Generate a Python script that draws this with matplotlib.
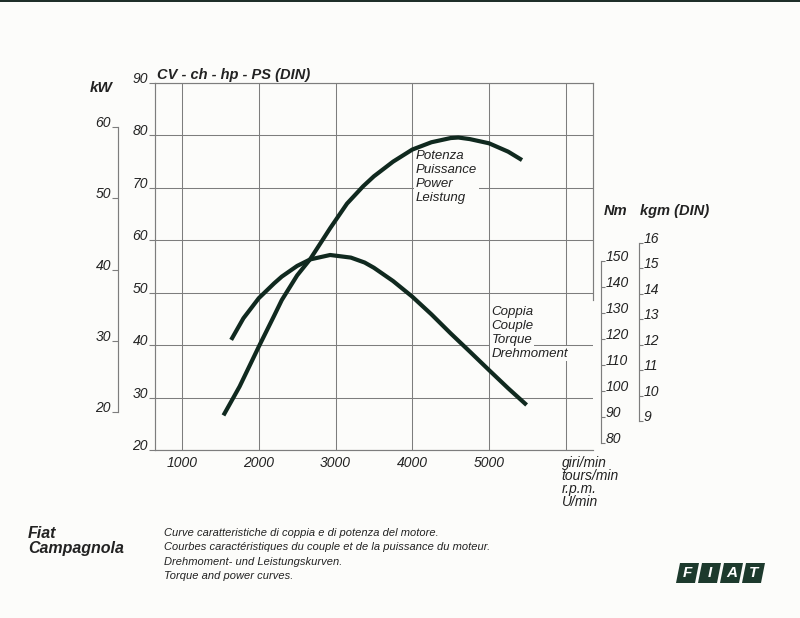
import matplotlib
matplotlib.use("Agg")
import matplotlib.pyplot as plt
from matplotlib.patches import Polygon, Rectangle

# ---------------- data ----------------
rpm_ticks = [1000, 2000, 3000, 4000, 5000, 6000]
rpm_labels = ["1000", "2000", "3000", "4000", "5000", ""]
cv_ticks = [20, 30, 40, 50, 60, 70, 80, 90]
kw_ticks = [20, 30, 40, 50, 60]
nm_ticks = [80, 90, 100, 110, 120, 130, 140, 150]
kgm_ticks = [9, 10, 11, 12, 13, 14, 15, 16]

power_rpm = [1540, 1750, 2000, 2200, 2300, 2500, 2670, 2930, 3150, 3360, 3500,
             3750, 4000, 4250, 4500, 4600, 4750, 5000, 5250, 5430]
power_cv = [26.6, 32.1, 39.7, 45.6, 48.6, 53.3, 56.4, 62.3, 67.0, 70.3, 72.2,
            75.0, 77.3, 78.7, 79.5, 79.6, 79.3, 78.5, 76.9, 75.3]

torque_rpm = [1640, 1800, 2000, 2200, 2300, 2500, 2670, 2930, 3200, 3380,
              3500, 3750, 4000, 4250, 4500, 4750, 5000, 5250, 5490]
torque_nm = [119.6, 127.9, 135.6, 141.3, 143.9, 148.0, 150.5, 152.2, 151.2, 149.3,
             147.3, 142.2, 136.2, 129.4, 122.1, 115.1, 108.0, 101.0, 94.6]

power_labels = ["Potenza", "Puissance", "Power", "Leistung"]
torque_labels = ["Coppia", "Couple", "Torque", "Drehmoment"]
rpm_unit_labels = ["giri/min", "tours/min", "r.p.m.", "U/min"]
model_name = ["Fiat", "Campagnola"]
caption_lines = [
    "Curve caratteristiche di coppia e di potenza del motore.",
    "Courbes caractéristiques du couple et de la puissance du moteur.",
    "Drehmoment- und Leistungskurven.",
    "Torque and power curves.",
]
logo_letters = ["F", "I", "A", "T"]

# ---------------- style ----------------
plt.rcParams["font.family"] = ["Liberation Sans", "DejaVu Sans"]
plt.rcParams["font.style"] = "italic"
BG = "#fcfcfa"
INK = "#222222"
GRID = "#7d7d7d"
CURVE = "#10291f"
LOGO = "#1d3a2d"

W, H = 800, 618
fig = plt.figure(figsize=(8, 6.18), dpi=100)
fig.patch.set_facecolor(BG)

def fx(px):
    return px / W

def fy(py):
    return 1 - py / H

# main axes (CV)
ax = fig.add_axes([fx(155), fy(450), 438 / W, 367 / H])
ax.set_facecolor(BG)
ax.set_xlim(648, 6355)
ax.set_ylim(20, 90)
ax.set_axisbelow(True)
ax.set_xticks(rpm_ticks)
ax.set_xticklabels(rpm_labels)
ax.set_yticks(cv_ticks)
ax.grid(True, color=GRID, lw=0.75)
for s in ax.spines.values():
    s.set_color(GRID)
    s.set_linewidth(0.85)
ax.spines["right"].set_bounds(48.6, 90)
ax.tick_params(axis="x", length=0, pad=4, labelsize=10, labelcolor=INK)
ax.tick_params(axis="y", direction="out", length=4, width=0.8, color=GRID,
               pad=1, labelsize=10, labelcolor=INK)
for t in ax.yaxis.get_major_ticks():
    t.label1.set_verticalalignment("baseline")

# kW secondary axis
kw = ax.secondary_yaxis(-0.0845, functions=(lambda c: c * 0.7355, lambda k: k / 0.7355))
kw.set_yticks(kw_ticks)
kw.spines["left"].set_bounds(20, 60)
kw.spines["left"].set_color(GRID)
kw.spines["left"].set_linewidth(0.85)
kw.tick_params(axis="y", direction="out", length=4, width=0.8, color=GRID,
               pad=1, labelsize=10, labelcolor=INK)
for t in kw.yaxis.get_major_ticks():
    t.label1.set_verticalalignment("baseline")

# torque twin axis (Nm)
ax2 = ax.twinx()
ax2.set_ylim(80 - 7 / 2.604, 80 + 360 / 2.604)
ax2.set_yticks([])
for s in ax2.spines.values():
    s.set_visible(False)

nm = ax2.secondary_yaxis(1.0183)
nm.set_yticks(nm_ticks)
nm.spines["right"].set_bounds(80, 150)
nm.spines["right"].set_color(GRID)
nm.spines["right"].set_linewidth(0.85)
nm.tick_params(axis="y", direction="out", length=3, width=0.8, color=GRID,
               pad=0.5, labelsize=10, labelcolor=INK)
for t in nm.yaxis.get_major_ticks():
    t.label2.set_verticalalignment("baseline")

kgm = ax2.secondary_yaxis(1.105, functions=(lambda n: n / 9.80665, lambda k: k * 9.80665))
kgm.set_yticks(kgm_ticks)
kgm.spines["right"].set_bounds(9, 16)
kgm.spines["right"].set_color(GRID)
kgm.spines["right"].set_linewidth(0.85)
kgm.tick_params(axis="y", direction="out", length=3, width=0.8, color=GRID,
                pad=0.5, labelsize=10, labelcolor=INK)
for t in kgm.yaxis.get_major_ticks():
    t.label2.set_verticalalignment("baseline")

# curves
ax.plot(power_rpm, power_cv, color=CURVE, lw=3.0, solid_capstyle="butt",
        solid_joinstyle="round", zorder=5)
ax2.plot(torque_rpm, torque_nm, color=CURVE, lw=3.0, solid_capstyle="butt",
         solid_joinstyle="round", zorder=5)

# curve labels
ax.text(4049, 77.3, "\n".join(power_labels), ha="left", va="top", fontsize=9.5,
        color=INK, linespacing=1.22, zorder=3,
        bbox=dict(boxstyle="square,pad=0.12", fc=BG, ec="none"))
for i, lab in enumerate(torque_labels):
    ax.annotate(lab, xy=(5035, 46.4), xytext=(0, -i * 10.1), textcoords="offset points",
                ha="left", va="center", fontsize=9.5, color=INK, zorder=3,
                bbox=dict(boxstyle="square,pad=0.12", fc=BG, ec="none"))

# rpm unit label
for i, lab in enumerate(rpm_unit_labels):
    ax.annotate(lab, xy=(6000, 0), xycoords=("data", "axes fraction"),
                xytext=(-3, -9 - i * 9.6), textcoords="offset points", ha="left",
                va="center", fontsize=10, color=INK, annotation_clip=False)

# axis headings
fig.text(fx(157), fy(75), "CV - ch - hp - PS (DIN)", ha="left", va="center",
         fontsize=10.5, fontweight="bold", color=INK)
fig.text(fx(90), fy(88), "kW", ha="left", va="center", fontsize=11,
         fontweight="bold", color=INK)
fig.text(fx(604), fy(211), "Nm", ha="left", va="center", fontsize=10.5,
         fontweight="bold", color=INK)
fig.text(fx(640), fy(211), "kgm (DIN)", ha="left", va="center", fontsize=10.5,
         fontweight="bold", color=INK)

# bottom captions
for i, name in enumerate(model_name):
    fig.text(fx(28), fy(533 + i * 16), name, ha="left", va="center", fontsize=11.5,
             fontweight="bold", color=INK)
for i, line in enumerate(caption_lines):
    fig.text(fx(164), fy(533 + i * 14.4), line, ha="left", va="center",
             fontsize=8.0, color=INK)

# FIAT logo
for i, letter in enumerate(logo_letters):
    x0 = 676 + i * 22
    pts = [(fx(x0), fy(583)), (fx(x0 + 19), fy(583)),
           (fx(x0 + 23), fy(563)), (fx(x0 + 4), fy(563))]
    fig.patches.append(Polygon(pts, closed=True, transform=fig.transFigure,
                               fc=LOGO, ec="none"))
    fig.text(fx(x0 + 11.5), fy(573), letter, ha="center", va="center",
             fontsize=11, fontweight="bold", color="white")

# scan edge strip
fig.patches.append(Rectangle((0, fy(2)), 1, 2 / H, transform=fig.transFigure,
                             fc="#1f2f29", ec="none"))

fig.savefig("out.png", dpi=100, facecolor=BG)
